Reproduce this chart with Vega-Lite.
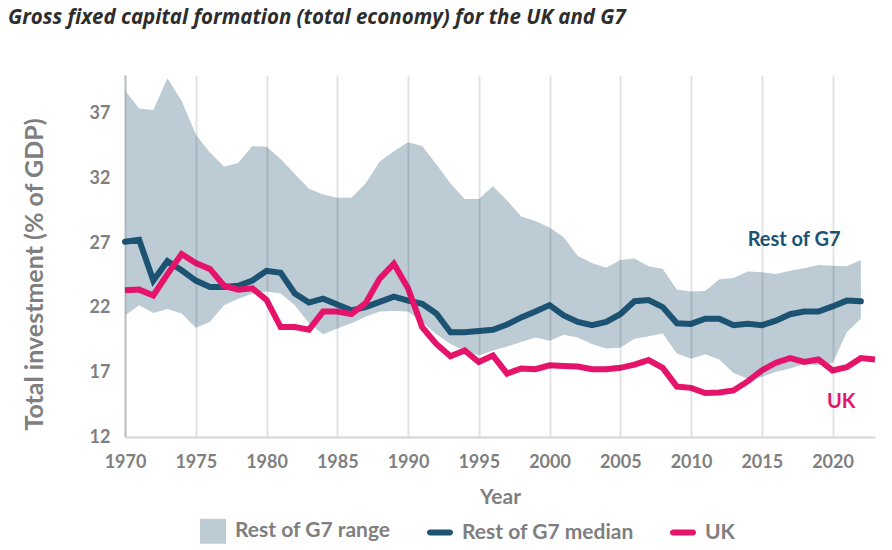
{
  "$schema": "https://vega.github.io/schema/vega-lite/v6.json",
  "autosize": "none",
  "padding": {"left": 125, "top": 75, "right": 17, "bottom": 113},
  "width": 750,
  "height": 362,
  "title": {
    "text": "Gross fixed capital formation (total economy) for the UK and G7",
    "anchor": "start",
    "frame": "group",
    "dx": -117,
    "offset": 47,
    "font": "Open Sans",
    "fontStyle": "italic",
    "fontWeight": "bold",
    "fontSize": 20.5,
    "color": "#2d2d2d"
  },
  "config": {
    "view": {"stroke": null},
    "font": "Lato"
  },
  "data": {
    "values": [
      {"year": 1970, "low": 21.4, "high": 38.8, "median": 27.1, "uk": 23.35},
      {"year": 1971, "low": 22.2, "high": 37.4, "median": 27.25, "uk": 23.4},
      {"year": 1972, "low": 21.6, "high": 37.3, "median": 24.1, "uk": 22.95},
      {"year": 1973, "low": 21.9, "high": 39.75, "median": 25.6, "uk": 24.6},
      {"year": 1974, "low": 21.55, "high": 38.0, "median": 24.9, "uk": 26.15},
      {"year": 1975, "low": 20.45, "high": 35.4, "median": 24.1, "uk": 25.45},
      {"year": 1976, "low": 20.9, "high": 34.0, "median": 23.6, "uk": 25.0},
      {"year": 1977, "low": 22.2, "high": 32.9, "median": 23.6, "uk": 23.7},
      {"year": 1978, "low": 22.7, "high": 33.2, "median": 23.7, "uk": 23.4},
      {"year": 1979, "low": 23.1, "high": 34.5, "median": 24.1, "uk": 23.5},
      {"year": 1980, "low": 23.25, "high": 34.45, "median": 24.85, "uk": 22.6},
      {"year": 1981, "low": 23.1, "high": 33.5, "median": 24.7, "uk": 20.5},
      {"year": 1982, "low": 22.2, "high": 32.35, "median": 23.1, "uk": 20.5},
      {"year": 1983, "low": 20.8, "high": 31.2, "median": 22.4, "uk": 20.3},
      {"year": 1984, "low": 19.95, "high": 30.75, "median": 22.7, "uk": 21.7},
      {"year": 1985, "low": 20.4, "high": 30.5, "median": 22.25, "uk": 21.7},
      {"year": 1986, "low": 20.8, "high": 30.5, "median": 21.8, "uk": 21.5},
      {"year": 1987, "low": 21.3, "high": 31.6, "median": 22.05, "uk": 22.35},
      {"year": 1988, "low": 21.7, "high": 33.3, "median": 22.45, "uk": 24.25},
      {"year": 1989, "low": 21.75, "high": 34.1, "median": 22.85, "uk": 25.4},
      {"year": 1990, "low": 21.7, "high": 34.8, "median": 22.55, "uk": 23.5},
      {"year": 1991, "low": 20.9, "high": 34.5, "median": 22.3, "uk": 20.5},
      {"year": 1992, "low": 19.95, "high": 33.1, "median": 21.55, "uk": 19.2},
      {"year": 1993, "low": 19.2, "high": 31.6, "median": 20.1, "uk": 18.25},
      {"year": 1994, "low": 18.7, "high": 30.4, "median": 20.1, "uk": 18.7},
      {"year": 1995, "low": 18.3, "high": 30.4, "median": 20.2, "uk": 17.8},
      {"year": 1996, "low": 18.7, "high": 31.4, "median": 20.3, "uk": 18.3},
      {"year": 1997, "low": 19.0, "high": 30.3, "median": 20.7, "uk": 16.9},
      {"year": 1998, "low": 19.35, "high": 29.05, "median": 21.25, "uk": 17.3},
      {"year": 1999, "low": 19.7, "high": 28.7, "median": 21.7, "uk": 17.25},
      {"year": 2000, "low": 19.45, "high": 28.2, "median": 22.2, "uk": 17.55},
      {"year": 2001, "low": 19.9, "high": 27.45, "median": 21.4, "uk": 17.5},
      {"year": 2002, "low": 19.7, "high": 26.0, "median": 20.9, "uk": 17.45},
      {"year": 2003, "low": 19.2, "high": 25.45, "median": 20.65, "uk": 17.25},
      {"year": 2004, "low": 18.85, "high": 25.1, "median": 20.9, "uk": 17.25},
      {"year": 2005, "low": 18.9, "high": 25.7, "median": 21.5, "uk": 17.35},
      {"year": 2006, "low": 19.6, "high": 25.8, "median": 22.5, "uk": 17.6},
      {"year": 2007, "low": 19.8, "high": 25.2, "median": 22.6, "uk": 17.95},
      {"year": 2008, "low": 20.0, "high": 25.0, "median": 22.05, "uk": 17.35},
      {"year": 2009, "low": 18.45, "high": 23.4, "median": 20.8, "uk": 15.9},
      {"year": 2010, "low": 18.05, "high": 23.25, "median": 20.75, "uk": 15.8},
      {"year": 2011, "low": 18.4, "high": 23.3, "median": 21.15, "uk": 15.4},
      {"year": 2012, "low": 18.0, "high": 24.2, "median": 21.15, "uk": 15.45},
      {"year": 2013, "low": 16.95, "high": 24.3, "median": 20.65, "uk": 15.6},
      {"year": 2014, "low": 16.5, "high": 24.8, "median": 20.75, "uk": 16.3},
      {"year": 2015, "low": 16.65, "high": 24.75, "median": 20.65, "uk": 17.15},
      {"year": 2016, "low": 17.05, "high": 24.6, "median": 21.0, "uk": 17.75},
      {"year": 2017, "low": 17.3, "high": 24.85, "median": 21.5, "uk": 18.1},
      {"year": 2018, "low": 17.65, "high": 25.05, "median": 21.7, "uk": 17.8},
      {"year": 2019, "low": 17.55, "high": 25.3, "median": 21.7, "uk": 18.0},
      {"year": 2020, "low": 17.7, "high": 25.25, "median": 22.1, "uk": 17.15},
      {"year": 2021, "low": 20.1, "high": 25.2, "median": 22.55, "uk": 17.4},
      {"year": 2022, "low": 21.15, "high": 25.7, "median": 22.5, "uk": 18.1},
      {"year": 2023, "low": null, "high": null, "median": null, "uk": 18.0}
    ]
  },
  "encoding": {
    "x": {
      "field": "year",
      "type": "quantitative",
      "scale": {"domain": [1970, 2023], "nice": false, "zero": false},
      "axis": {
        "title": "Year",
        "values": [1970, 1975, 1980, 1985, 1990, 1995, 2000, 2005, 2010, 2015, 2020],
        "format": "d",
        "grid": true,
        "gridColor": "#1a2633",
        "gridOpacity": 0.13,
        "gridWidth": 2,
        "ticks": false,
        "domainColor": "#d4d4d4",
        "domainWidth": 2,
        "labelFont": "Lato",
        "labelFontSize": 18,
        "labelFontWeight": "bold",
        "labelColor": "#7f7f7f",
        "labelPadding": 16,
        "labelFlush": false,
        "titleFont": "Lato",
        "titleFontSize": 21,
        "titleFontWeight": "bold",
        "titleColor": "#7f7f7f",
        "titlePadding": 15,
        "zindex": 1
      }
    }
  },
  "layer": [
    {
      "mark": {"type": "area"},
      "encoding": {
        "y": {
          "field": "low",
          "type": "quantitative",
          "scale": {"domain": [12, 40], "nice": false, "zero": false},
          "axis": {
            "title": "Total investment (% of GDP)",
            "values": [12, 17, 22, 27, 32, 37],
            "grid": false,
            "ticks": false,
            "domainColor": "#d4d4d4",
            "domainWidth": 2,
            "labelFont": "Lato",
            "labelFontSize": 18,
            "labelFontWeight": "bold",
            "labelColor": "#7f7f7f",
            "labelPadding": 15,
            "labelFlush": false,
            "titleFont": "Lato",
            "titleFontSize": 25,
            "titleFontWeight": "bold",
            "titleColor": "#7f7f7f",
            "titlePadding": 42,
            "titleY": 199
          }
        },
        "y2": {"field": "high"},
        "color": {
          "datum": "Rest of G7 range",
          "type": "nominal",
          "scale": {
            "domain": ["Rest of G7 range", "Rest of G7 median", "UK"],
            "range": ["#bccbd4", "#1d5372", "#e5146a"]
          },
          "legend": {
            "title": null,
            "orient": "none",
            "direction": "horizontal",
            "legendX": 75,
            "legendY": 443,
            "symbolSize": 676,
            "labelFont": "Lato",
            "labelFontSize": 21,
            "labelFontWeight": "bold",
            "labelColor": "#7f7f7f",
            "labelOffset": 9,
            "labelLimit": 300,
            "columnPadding": 36,
            "encode": {
              "symbols": {
                "update": {
                  "shape": {"signal": "datum.value === 'Rest of G7 range' ? 'M-1,-0.96H1V0.96H-1Z' : 'M-0.77,-0.23H0.77A0.23,0.23 0 0 1 0.77,0.23H-0.77A0.23,0.23 0 0 1 -0.77,-0.23Z'"},
                  "fill": {"scale": "color", "field": "value"},
                  "stroke": {"value": "transparent"},
                  "strokeWidth": {"value": 0},
                  "opacity": {"value": 1}
                }
              }
            }
          }
        }
      }
    },
    {
      "mark": {"type": "line", "strokeWidth": 6, "strokeCap": "round"},
      "encoding": {
        "y": {"field": "median", "type": "quantitative"},
        "color": {"datum": "Rest of G7 median", "type": "nominal"}
      }
    },
    {
      "mark": {"type": "line", "strokeWidth": 6, "strokeCap": "butt"},
      "encoding": {
        "y": {"field": "uk", "type": "quantitative"},
        "color": {"datum": "UK", "type": "nominal"}
      }
    },
    {
      "data": {"values": [{"year": 2014.0, "value": 26.74, "label": "Rest of G7"}]},
      "mark": {"type": "text", "align": "left", "baseline": "alphabetic", "font": "Lato", "fontSize": 20, "fontWeight": "bold", "color": "#1d5372"},
      "encoding": {
        "y": {"field": "value", "type": "quantitative"},
        "text": {"field": "label"}
      }
    },
    {
      "data": {"values": [{"year": 2019.6, "value": 14.24, "label": "UK"}]},
      "mark": {"type": "text", "align": "left", "baseline": "alphabetic", "font": "Lato", "fontSize": 20, "fontWeight": "bold", "color": "#e5146a"},
      "encoding": {
        "y": {"field": "value", "type": "quantitative"},
        "text": {"field": "label"}
      }
    }
  ]
}
